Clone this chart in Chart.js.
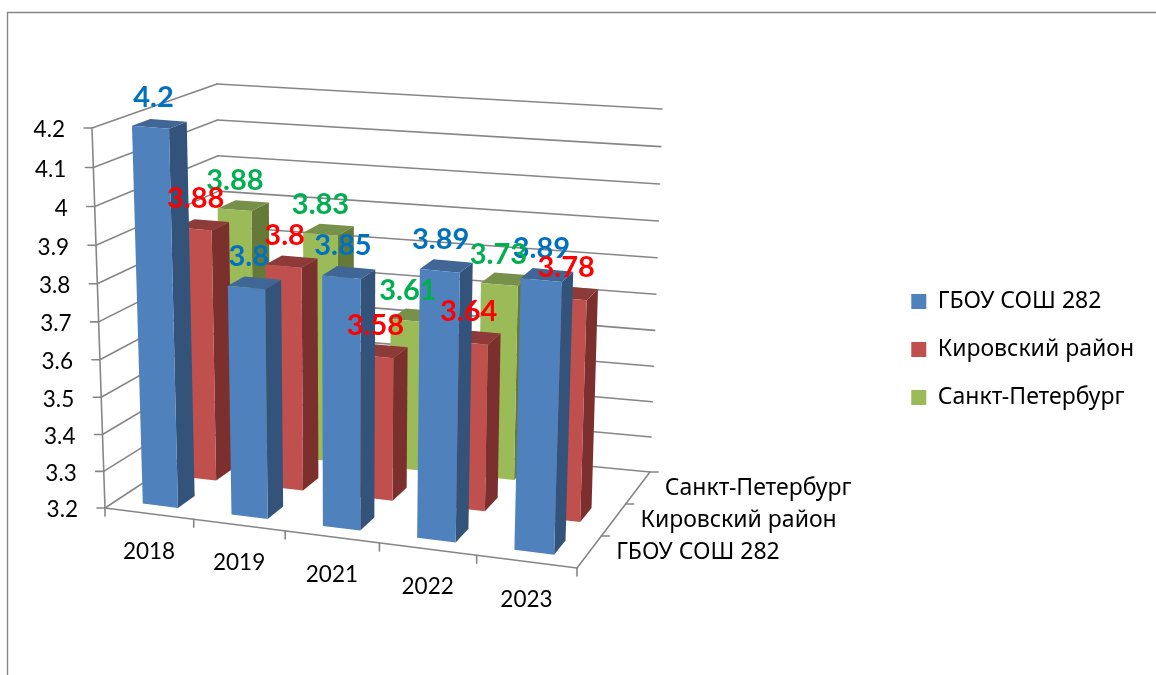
<!DOCTYPE html>
<html><head><meta charset="utf-8">
<style>html,body{margin:0;padding:0;background:#fff}canvas{display:block}</style>
<script src="https://cdn.jsdelivr.net/npm/chart.js@4"></script>
</head><body>
<canvas id="c" width="1156" height="675"></canvas>
<script>
const categories = ['2018','2019','2021','2022','2023'];
const seriesNames = ['ГБОУ СОШ 282','Кировский район','Санкт-Петербург'];
const school = [4.2,3.8,3.85,3.89,3.89];
const district = [3.88,3.8,3.58,3.64,3.78];
const city = [3.88,3.83,3.61,3.73,null];

const frontColors = ['#4F81BD','#C0504D','#9BBB59'];
const sideColors  = ['#33537B','#7C302E','#657A39'];
const topColors   = ['#3F6695','#8E3A38','#77904A'];
const labelColors = ['#0070C0','#FF0000','#00B050'];
const AXIS = '#868686';
const TEXT = "'Lato','Noto Sans',sans-serif";
const CYR = "'Noto Sans',sans-serif";

// Corners of the 3D box on the page
const box = {
  fb0:[105,508], fb1:[577,568], bb0:[222,431], bb1:[650,472],
  ft0:[92,128],  ft1:[590,168], bt0:[217,84],  bt1:[662,109]
};
const lerp=(a,b,t)=>[a[0]+(b[0]-a[0])*t,a[1]+(b[1]-a[1])*t];
// foreshortening along the category axis and, for the walls, the value axis
const warp=(t,a)=>t/(a-(a-1)*t);
const warpU=u=>warp(u,1.08);
const wallV=v=>warp(v,1.042);
function P(u,v,w){
  const fb=lerp(box.fb0,box.fb1,u), bb=lerp(box.bb0,box.bb1,u);
  const ft=lerp(box.ft0,box.ft1,u), bt=lerp(box.bt0,box.bt1,u);
  return lerp(lerp(fb,bb,w),lerp(ft,bt,w),v);
}
function poly(ctx,pts,fill){
  ctx.beginPath();pts.forEach((p,i)=>i?ctx.lineTo(p[0],p[1]):ctx.moveTo(p[0],p[1]));ctx.closePath();
  ctx.fillStyle=fill;ctx.fill();
}
function seg(ctx,a,b,w){
  ctx.beginPath();ctx.moveTo(a[0],a[1]);ctx.lineTo(b[0],b[1]);ctx.strokeStyle=AXIS;ctx.lineWidth=w||1.6;ctx.stroke();
}
const depthSlot=1/3;
const normU=(c,x)=>warpU((x-c.chartArea.left)/(c.chartArea.right-c.chartArea.left));
const normV=(c,y)=>(c.chartArea.bottom-y)/(c.chartArea.bottom-c.chartArea.top);

const fakeCube={
  id:'fakeCube',
  beforeDraw(c){
    const ctx=c.ctx;ctx.save();
    ctx.fillStyle='#fff';ctx.fillRect(0,0,c.width,c.height);
    ctx.beginPath();ctx.moveTo(7.5,675);ctx.lineTo(7.5,12.5);ctx.lineTo(1156,12.5);
    ctx.strokeStyle=AXIS;ctx.lineWidth=1.4;ctx.stroke();ctx.restore();
  },
  beforeDatasetsDraw(c){
    const ctx=c.ctx,ys=c.scales.y,xs=c.scales.x;ctx.save();ctx.lineCap='round';
    // walls, one line per tick
    ys.ticks.forEach(t=>{
      const v=wallV(normV(c,ys.getPixelForValue(t.value)));
      seg(ctx,P(0,v,0),P(0,v,1));
      seg(ctx,P(0,v,1),P(1,v,1));
      const a=P(0,v,0);seg(ctx,[a[0]-8,a[1]],a);
    });
    seg(ctx,P(0,0,0),P(0,1,0));
    seg(ctx,P(0,0,0),P(1,0,0));
    seg(ctx,P(1,0,0),P(1,0,1));
    // category ticks
    for(let i=0;i<=categories.length;i++){
      const a=P(warpU(i/categories.length),0,0);seg(ctx,a,[a[0],a[1]+8]);
    }
    // depth ticks
    for(let i=1;i<=seriesNames.length;i++){
      const a=P(1,0,i/seriesNames.length);seg(ctx,a,[a[0]+8,a[1]]);
    }
    // axis labels
    ctx.fillStyle='#000';ctx.textBaseline='middle';
    ctx.font='22.5px '+TEXT;ctx.textAlign='right';
    ys.ticks.forEach(t=>{
      const a=P(0,wallV(normV(c,ys.getPixelForValue(t.value))),0);
      ctx.fillText(String(+t.value.toFixed(1)),a[0]-27,a[1]+2);
    });
    ctx.textAlign='center';
    categories.forEach((n,i)=>{
      const a=P(normU(c,xs.getPixelForValue(i)),0,0);
      ctx.fillText(n,a[0],a[1]+38);
    });
    ctx.textAlign='left';ctx.font='23px '+CYR;
    seriesNames.forEach((n,i)=>{
      const a=P(1,0,(i+.5)*depthSlot);
      ctx.fillText(n,a[0]+27,a[1]);
    });
    ctx.restore();
  },
  beforeDatasetDraw(c,args){
    const ctx=c.ctx,i=args.index,meta=args.meta;
    const w0=(i+.3)*depthSlot+.01*i,w1=w0+.15;
    const v0=normV(c,c.scales.y.getPixelForValue(c.scales.y.min));
    meta.data.forEach((el,j)=>{
      if(c.data.datasets[i].data[j]==null)return;
      const u0=normU(c,el.x-el.width/2),u1=normU(c,el.x+el.width/2),v=normV(c,el.y);
      poly(ctx,[P(u1,v0,w0),P(u1,v0,w1),P(u1,v,w1),P(u1,v,w0)],sideColors[i]);
      poly(ctx,[P(u0,v,w0),P(u1,v,w0),P(u1,v,w1),P(u0,v,w1)],topColors[i]);
      poly(ctx,[P(u0,v0,w0),P(u1,v0,w0),P(u1,v,w0),P(u0,v,w0)],frontColors[i]);
    });
    return false;
  },
  afterDatasetsDraw(c){
    const ctx=c.ctx;ctx.save();ctx.textAlign='center';ctx.textBaseline='middle';
    ctx.font='bold 29px '+TEXT;
    [0,2,1].forEach(i=>{
      const meta=c.getDatasetMeta(i);
      meta.data.forEach((el,j)=>{
        const val=c.data.datasets[i].data[j];
        if(val==null)return;
        const a=P(normU(c,el.x),normV(c,el.y),(i+.5)*depthSlot);
        ctx.fillStyle=labelColors[i];
        ctx.fillText(String(val),a[0]-5,a[1]-27);
      });
    });
    ctx.restore();
  }
};
new Chart(document.getElementById('c'),{
  type:'bar',
  data:{labels:categories,datasets:[school,district,city].map((d,i)=>({
    label:seriesNames[i],data:d,backgroundColor:frontColors[i],
    grouped:false,barPercentage:0.4,categoryPercentage:1
  }))},
  plugins:[fakeCube],
  options:{
    responsive:false,animation:false,
    layout:{padding:{left:105,top:24,right:12,bottom:0}},
    scales:{
      x:{display:true,grid:{display:false},border:{display:false},ticks:{display:false}},
      y:{min:3.2,max:4.2,grid:{display:false},border:{display:false},ticks:{display:false,stepSize:0.1}}
    },
    plugins:{
      tooltip:{enabled:false},
      legend:{position:'right',labels:{boxWidth:15,boxHeight:15,padding:25,color:'#000',font:{size:23,family:CYR}}}
    }
  }
});
</script>
</body></html>
